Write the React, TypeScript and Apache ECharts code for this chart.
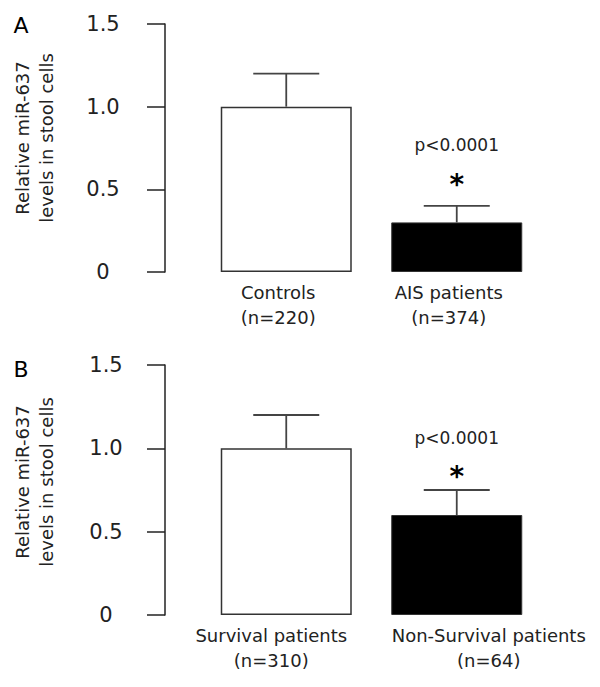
import React, { useEffect, useRef } from 'react';
import * as echarts from 'echarts';

const panelLabels = ['A', 'B'];
const categoriesA = ['Controls\n(n=220)', 'AIS patients\n(n=374)'];
const categoriesB = ['Survival patients\n(n=310)', 'Non-Survival patients\n(n=64)'];
const meansA = [1.0, 0.3];
const errorsA = [0.2, 0.1];
const meansB = [1.0, 0.6];
const errorsB = [0.2, 0.15];
const yMin = 0;
const yMax = 1.5;
const yInterval = 0.5;
const pLabel = 'p<0.0001';
const starLabel = '*';
// y values (data units) at which the significance annotations sit, per panel
const starYA = 0.55;
const pYA = 0.77;
const starYB = 0.85;
const pYB = 1.06;
const yTitleLines = ['Relative miR-637', 'levels in stool cells'];

const FONT = 'DejaVu Sans';
const TEXT = '#222';

const grids = [
  { left: 201, width: 341, top: 24, height: 248 },
  { left: 201, width: 341, top: 365, height: 250 },
];
// horizontal shift (px) of each category label relative to its bar
const labelShift = [
  [-8, -8],
  [-15, 32],
];

function makeAxes(idx: number, cats: string[]) {
  const xAxis = {
    type: 'category',
    gridIndex: idx,
    data: cats.map((c, i) => {
      const s = labelShift[idx][i];
      return {
        value: c,
        textStyle: { padding: s >= 0 ? [0, 0, 0, 2 * s] : [0, -2 * s, 0, 0] },
      };
    }),
    axisLine: { show: false },
    axisTick: { show: false },
    axisLabel: {
      interval: 0,
      fontFamily: FONT,
      fontSize: 18,
      lineHeight: 25,
      color: TEXT,
      margin: 8,
    },
  };
  const yAxis = {
    type: 'value',
    gridIndex: idx,
    min: yMin,
    max: yMax,
    interval: yInterval,
    offset: 36,
    splitLine: { show: false },
    axisLine: { show: true, lineStyle: { color: '#222', width: 1.5 } },
    axisTick: { show: true, inside: false, length: 18, lineStyle: { color: '#222', width: 1.5 } },
    axisLabel: {
      fontFamily: FONT,
      fontSize: 21,
      color: TEXT,
      align: 'center',
      margin: idx === 0 ? 62 : 59,
      formatter: (v: number) => (v === 0 ? '0' : v.toFixed(1)),
    },
  };
  return { xAxis, yAxis };
}

function barSeries(idx: number, means: number[]) {
  return {
    type: 'bar',
    xAxisIndex: idx,
    yAxisIndex: idx,
    barWidth: 131,
    data: means.map((v, i) => ({
      value: v,
      itemStyle: i === 0
        ? { color: '#fff', borderColor: '#333', borderWidth: 1.5 }
        : { color: '#000', borderColor: '#333', borderWidth: 1 },
    })),
    z: 2,
  };
}

function errorSeries(idx: number, means: number[], errs: number[]) {
  return {
    type: 'custom',
    xAxisIndex: idx,
    yAxisIndex: idx,
    z: 3,
    data: means.map((m, i) => [i, m, errs[i]]),
    encode: { x: 0, y: 1 },
    renderItem: (params: any, api: any) => {
      const xi = api.value(0);
      const m = api.value(1);
      const e = api.value(2);
      const base = api.coord([xi, m]);
      const top = api.coord([xi, m + e]);
      const half = 33;
      const style = { stroke: '#444', lineWidth: 1.8 };
      return {
        type: 'group',
        children: [
          { type: 'line', shape: { x1: base[0], y1: base[1], x2: top[0], y2: top[1] }, style },
          { type: 'line', shape: { x1: top[0] - half, y1: top[1], x2: top[0] + half, y2: top[1] }, style },
        ],
      };
    },
  };
}

function sigSeries(idx: number, starY: number, pY: number) {
  return {
    type: 'custom',
    xAxisIndex: idx,
    yAxisIndex: idx,
    z: 4,
    data: [[1, starY, pY]],
    encode: { x: 0, y: 1 },
    renderItem: (params: any, api: any) => {
      const s = api.coord([api.value(0), api.value(1)]);
      const p = api.coord([api.value(0), api.value(2)]);
      return {
        type: 'group',
        children: [
          {
            type: 'text',
            x: p[0],
            y: p[1],
            style: {
              text: pLabel,
              fontFamily: FONT,
              fontSize: 17,
              fill: TEXT,
              align: 'center',
              verticalAlign: 'middle',
            },
          },
          {
            type: 'text',
            x: s[0],
            y: s[1] + 3,
            style: {
              text: starLabel,
              fontFamily: FONT,
              fontSize: 28,
              fontWeight: 'bold',
              fill: '#000',
              align: 'center',
              verticalAlign: 'middle',
            },
          },
        ],
      };
    },
  };
}

export default function App() {
  const ref = useRef<HTMLDivElement>(null);
  useEffect(() => {
    if (!ref.current) return;
    const chart = echarts.init(ref.current, undefined, { renderer: 'svg' });
    const a = makeAxes(0, categoriesA);
    const b = makeAxes(1, categoriesB);
    const titleGraphics: any[] = [];
    const titleCenters = [138, 482];
    titleCenters.forEach((cy) => {
      yTitleLines.forEach((line, li) => {
        titleGraphics.push({
          type: 'text',
          x: li === 0 ? 22 : 46,
          y: cy,
          rotation: Math.PI / 2,
          style: {
            text: line,
            fontFamily: FONT,
            fontSize: 18,
            fill: TEXT,
            align: 'center',
            verticalAlign: 'middle',
          },
        });
      });
    });
    const letterPos = [25, 369];
    panelLabels.forEach((l, i) => {
      titleGraphics.push({
        type: 'text',
        x: 21,
        y: letterPos[i],
        style: {
          text: l,
          fontFamily: FONT,
          fontSize: 22,
          fill: '#000',
          align: 'center',
          verticalAlign: 'middle',
        },
      });
    });
    chart.setOption({
      animation: false,
      backgroundColor: '#fff',
      grid: grids,
      xAxis: [a.xAxis, b.xAxis],
      yAxis: [a.yAxis, b.yAxis],
      series: [
        barSeries(0, meansA),
        errorSeries(0, meansA, errorsA),
        sigSeries(0, starYA, pYA),
        barSeries(1, meansB),
        errorSeries(1, meansB, errorsB),
        sigSeries(1, starYB, pYB),
      ],
      graphic: titleGraphics,
    });
    return () => chart.dispose();
  }, []);
  return (
    <div
      ref={ref}
      style={{ position: 'absolute', left: 0, top: 0, width: 600, height: 687 }}
    />
  );
}
